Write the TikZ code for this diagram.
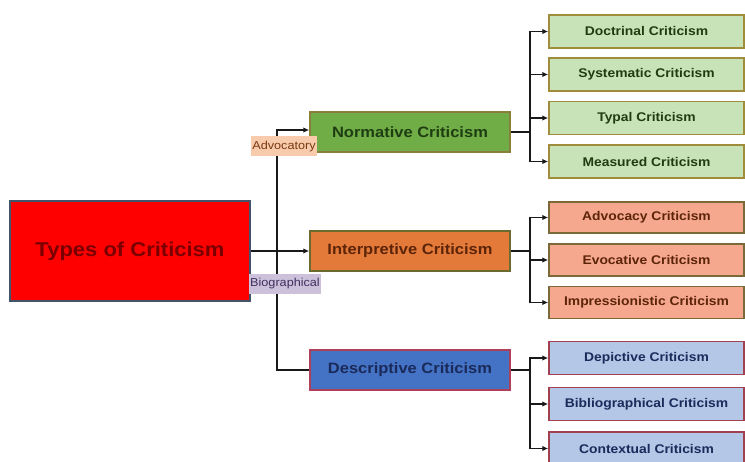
\documentclass[tikz,border=0pt]{standalone}
\usepackage{fontspec}
\setmainfont{Liberation Sans}[FakeStretch=1.1]
\usetikzlibrary{arrows.meta}

\definecolor{rootred}{HTML}{FF0000}
\definecolor{rootline}{HTML}{44546A}
\definecolor{roottext}{HTML}{7A0000}
\definecolor{normfill}{HTML}{70AD47}
\definecolor{normline}{HTML}{8A7F3A}
\definecolor{normtext}{HTML}{1F3D12}
\definecolor{intfill}{HTML}{E47A3A}
\definecolor{intline}{HTML}{6B6B30}
\definecolor{inttext}{HTML}{5C2408}
\definecolor{desfill}{HTML}{4472C4}
\definecolor{desline}{HTML}{B0405A}
\definecolor{destext}{HTML}{1A2A5A}
\definecolor{greenkid}{HTML}{C9E3B8}
\definecolor{greenkidline}{HTML}{A08D3C}
\definecolor{salmonkid}{HTML}{F6A88E}
\definecolor{salmonkidline}{HTML}{7A6A3A}
\definecolor{bluekid}{HTML}{B4C7E7}
\definecolor{bluekidline}{HTML}{A04050}
\definecolor{advfill}{HTML}{F8CBAD}
\definecolor{advtext}{HTML}{7A3A10}
\definecolor{biofill}{HTML}{CCC0DA}
\definecolor{biotext}{HTML}{3F3060}

\begin{document}
\begin{tikzpicture}[x=1pt,y=-1pt,
    midbox/.style={draw, line width=1.5pt, minimum width=200pt, minimum height=40pt,
      inner sep=0pt, font=\fontsize{15}{15}\selectfont\bfseries},
    kidbox/.style={draw, line width=1.5pt, minimum width=195pt, minimum height=33pt,
      inner sep=0pt, font=\fontsize{12.6}{13}\selectfont\bfseries},
    tag/.style={inner sep=1.5pt, minimum height=20pt, font=\fontsize{11.5}{11.5}\selectfont},
    conn/.style={line width=1.4pt, black!90},
    arr/.style={conn, -{Latex[length=6pt,width=5.5pt]}}]
    \useasboundingbox (0,0) rectangle (745,462);

    % root
    \node[draw=rootline, line width=2pt, fill=rootred, minimum width=240pt, minimum height=100pt,
      text=roottext, font=\fontsize{20}{20}\selectfont\bfseries] (root) at (130,251) {Types of Criticism};

    % middle level
    \node[midbox, draw=normline, fill=normfill, text=normtext] (nor) at (410,132) {Normative Criticism};
    \node[midbox, draw=intline, fill=intfill, text=inttext] (int) at (410,251) {Interpretive Criticism};
    \node[midbox, draw=desline, fill=desfill, text=destext] (des) at (410,370) {Descriptive Criticism};

    % normative children
    \node[kidbox, draw=greenkidline, fill=greenkid, text=normtext] (doc) at (646.5,31.5) {Doctrinal Criticism};
    \node[kidbox, draw=greenkidline, fill=greenkid, text=normtext] (sys) at (646.5,74.5) {Systematic Criticism};
    \node[kidbox, draw=greenkidline, fill=greenkid, text=normtext] (typ) at (646.5,118) {Typal Criticism};
    \node[kidbox, draw=greenkidline, fill=greenkid, text=normtext] (mea) at (646.5,161.5) {Measured Criticism};

    % interpretive children
    \node[kidbox, minimum height=31pt, draw=salmonkidline, fill=salmonkid, text=inttext] (adv) at (646.5,217.5) {Advocacy Criticism};
    \node[kidbox, minimum height=32pt, draw=salmonkidline, fill=salmonkid, text=inttext] (evo) at (646.5,260) {Evocative Criticism};
    \node[kidbox, minimum height=32pt, draw=salmonkidline, fill=salmonkid, text=inttext] (imp) at (646.5,302.5) {Impressionistic Criticism};

    % descriptive children
    \node[kidbox, draw=bluekidline, fill=bluekid, text=destext] (dep) at (646.5,358) {Depictive Criticism};
    \node[kidbox, draw=bluekidline, fill=bluekid, text=destext] (bib) at (646.5,404) {Bibliographical Criticism};
    \node[kidbox, draw=bluekidline, fill=bluekid, text=destext] (con) at (646.5,448.5) {Contextual Criticism};

    % connectors
    \coordinate (rt) at (277,251);
    \draw[arr] (root.east) -- (int.west);
    \draw[arr] (rt) -- (rt |- 0,130) -- (nor.west |- 0,130);
    \draw[conn] (rt) |- (des.west);

    \coordinate (nt) at (530,132);
    \coordinate (it) at (530,251);
    \coordinate (dt) at (530,370);
    \draw[conn] (nor.east) -- (nt);
    \draw[conn] (int.east) -- (it);
    \draw[conn] (des.east) -- (dt);
    \foreach \k in {doc,sys,typ,mea} \draw[arr] (nt) |- (\k.west);
    \foreach \k in {adv,evo,imp} \draw[arr] (it) |- (\k.west);
    \foreach \k in {dep,bib,con} \draw[arr] (dt) |- (\k.west);

    % labels on the trunk
    \node[tag, fill=advfill, text=advtext] (advlab) at (284,146.5) {Advocatory};
    \node[tag, fill=biofill, text=biotext] (biolab) at (285,284) {Biographical};
\end{tikzpicture}
\end{document}
